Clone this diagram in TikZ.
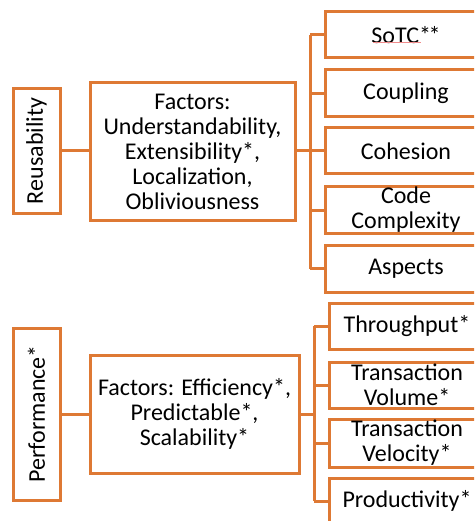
\documentclass[tikz,border=0pt]{standalone}
\usepackage{fontspec}
\setmainfont{Carlito}
\definecolor{boxorange}{RGB}{222,121,52}
\definecolor{spellred}{RGB}{240,140,140}
\begin{document}
\begin{tikzpicture}[x=1pt,y=-1pt,
  box/.style={draw=boxorange,line width=3pt,fill=white,inner sep=0pt,align=center,
    font=\fontsize{24}{25}\selectfont},
  txt/.style={inner sep=0pt,align=center,font=\fontsize{24}{25}\selectfont},
  link/.style={draw=boxorange,line width=3pt}]
\useasboundingbox (0,0) rectangle (474,521);
\clip (0,0) rectangle (474,521);
% --- upper tree
\node[box,rotate=90,minimum width=124pt,minimum height=47pt] (reu) at (36.5,151) {Reusability};
\node[box,minimum width=205pt,minimum height=137pt] (fac1) at (192.5,151.5)
  {Factors:\\Understandability,\\Extensibility*,\\Localization,\\Obliviousness};
\node[box,minimum width=162pt,minimum height=46pt] (sotc) at (406,35) {SoTC*\kern-2.5pt*};
\node[box,minimum width=162pt,minimum height=47pt] (coup) at (406,93.5) {Coupling};
\node[box,minimum width=162pt,minimum height=46pt] (cohe) at (406,151) {Cohesion};
\node[box,minimum width=162pt,minimum height=46pt] (code) at (406,210) {};
\node[txt] (codet) at (code.center) {Code\\Complexity};
\node[box,minimum width=162pt,minimum height=47pt] (asp) at (406,268.5) {Aspects};
\coordinate (s1) at (310,151);
\draw[link] (reu.south) -- (fac1.west |- reu.south);
\draw[link] (fac1.east |- s1) -- (s1);
\draw[link] (s1 |- sotc.west) -- (s1 |- asp.west);
\foreach \c in {sotc,coup,cohe,code,asp}
  \draw[link] (s1 |- \c.west) -- (\c.west);
% spell-check underline under SoTC
\coordinate (u1) at (373,42);
\coordinate (u2) at (421,42);
\draw[spellred,line width=0.8pt] (u1) -- (u2);
% --- lower tree
\node[box,rotate=90,minimum width=172pt,minimum height=47pt] (perf) at (36.5,414) {Performance*};
\node[box,minimum width=209pt,minimum height=118pt] (fac2) at (194.5,414)
  {Factors: Efficiency*,\\Predictable*,\\Scalability*};
\node[box,minimum width=156pt,minimum height=46pt] (thr) at (407,326) {Throughput*};
\node[box,minimum width=156pt,minimum height=46pt] (tvol) at (407,385) {};
\node[txt] (tvolt) at (tvol.center) {Transaction\\Volume*};
\node[box,minimum width=156pt,minimum height=48pt] (tvel) at (407,443) {};
\node[txt] (tvelt) at (tvel.center) {Transaction\\Velocity*};
\node[box,minimum width=156pt,minimum height=46pt] (prod) at (407,501) {Productivity*};
\coordinate (s2) at (314,414);
\draw[link] (perf.south) -- (fac2.west |- perf.south);
\draw[link] (fac2.east |- s2) -- (s2);
\draw[link] (s2 |- thr.west) -- (s2 |- prod.west);
\foreach \c in {thr,tvol,tvel,prod}
  \draw[link] (s2 |- \c.west) -- (\c.west);
\end{tikzpicture}
\end{document}
